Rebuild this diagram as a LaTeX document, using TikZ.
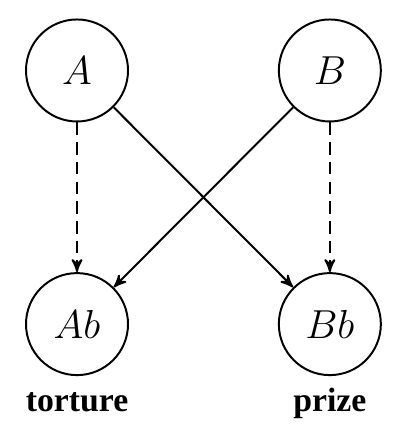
\documentclass[tikz,border=0pt]{standalone}
\usepackage{amsmath}
\usepackage{fontspec}
\newfontfamily\lblfont{Liberation Serif}
\usepackage{tikz}
\usetikzlibrary{arrows,positioning}

\begin{document}
\begin{tikzpicture}[
    auto,
    >=stealth',
    line width=0.7pt,
    state/.style={
		circle,
		draw=black,
		minimum size=12.75mm,
		inner sep=0pt,
		font=\Large,
		fill=white
	},
	outcome/.style={
		font=\lblfont\bfseries\fontsize{12}{14}\selectfont,
		anchor=base
	},
	guess/.style={
		dash pattern=on 4.5pt off 2.5pt
	}
  ]
  \useasboundingbox (-0.9625,0.881) rectangle (4.1625,-4.481);
    % We start by placing the states

  \node [state] (A) at (0,0) {$A$};
  \node [state] (B) at (3.16,0) {$B$};
  \node [state] (Ab) at (0,-3.17) {$Ab$};
  \node [state] (Bb) at (3.16,-3.17) {$Bb$};

  \node [outcome] (torture) at (0,-4.256) {torture};
  \node [outcome] (prize) at (3.16,-4.256) {prize};

 \draw [->, guess] (A) -- (Ab);
 \draw [->, guess] (B) -- (Bb);
 \draw [->] (A) -- (Bb);
 \draw [->] (B) -- (Ab);

\end{tikzpicture}
\end{document}
